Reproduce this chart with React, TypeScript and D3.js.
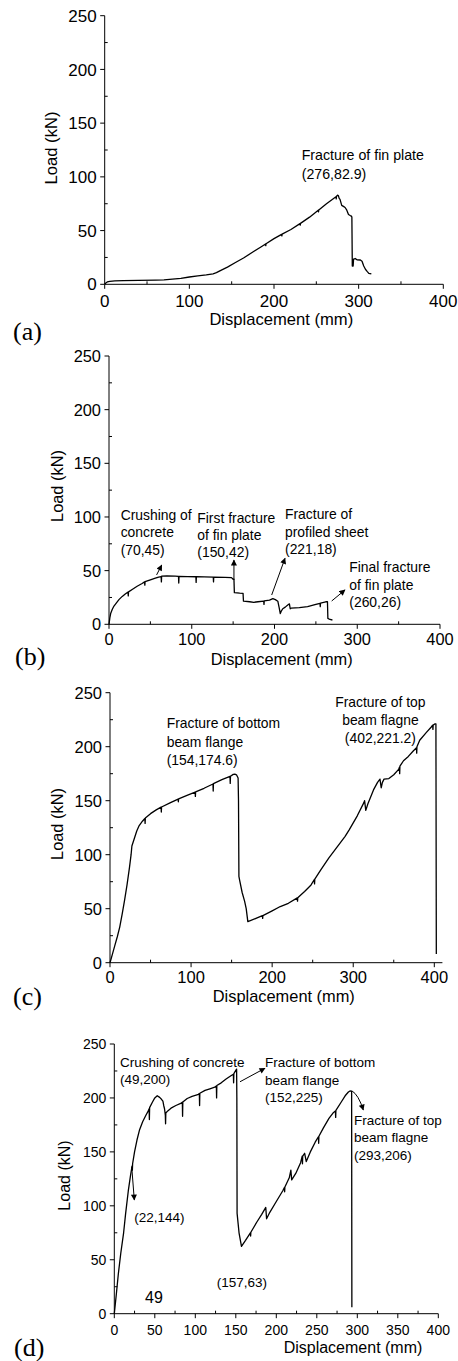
import * as d3 from "d3";

type Pt = [number, number];

// ---- data ----
const curveA: Pt[] = [
  [0, 0], [1, 1], [3, 2.2], [6, 2.8], [12, 3.2], [22, 3.4], [40, 3.6], [60, 3.9], [70, 4.1],
  [80, 4.8], [90, 5.6], [100, 6.8], [110, 7.8], [120, 8.8], [128, 9.8], [132, 10.8], [136, 12.5],
  [145, 16], [155, 20.5], [164, 24.5], [175, 30], [185, 35], [190, 37.5], [190.3, 36], [190.6, 37.7],
  [200, 42.5], [209, 46.5], [209.3, 45], [209.6, 46.7], [220, 51], [230.7, 56.5], [231, 55], [231.3, 56.7],
  [242, 62.5], [252.3, 69], [252.6, 67.5], [252.9, 69.2], [262, 75], [272, 80.8], [273.2, 81.5], [273.5, 79.5],
  [273.8, 81.8], [275, 82.9], [276, 82.6], [277, 80], [278, 79], [280, 73.5], [282, 72.5], [284, 71.5],
  [286, 69], [288, 65], [290, 64], [291.5, 63.5], [292, 62.5], [292.5, 17], [293.5, 17], [294, 23.5],
  [296, 24], [298, 22.8], [302, 22.6], [304, 21.5], [306, 17], [308, 14], [310, 12], [312, 10.2], [315, 9.6],
];

const curveB: Pt[] = [
  [0, 0], [1, 6], [2, 10], [4, 14], [6, 17], [9, 20], [12, 23], [16, 26], [20, 28.5], [23, 30],
  [23.3, 26.5], [23.6, 30.2], [28, 32.5], [34, 35.5], [40, 38], [43, 39.5], [43.3, 36.5], [43.6, 39.8],
  [50, 41.5], [56, 43], [60, 44], [63, 44.5], [63.3, 39.5], [63.6, 44.8], [70, 45], [80, 44.8],
  [84, 44.6], [84.3, 38.5], [84.6, 44.6], [95, 44.5], [105, 44.3], [105.3, 39], [105.6, 44.3],
  [115, 44.2], [126, 44], [126.3, 39.5], [126.6, 44], [140, 43.8], [148, 43.5], [150, 42], [151, 42],
  [151.5, 29.5], [158, 29], [162, 28.8], [162.5, 21.5], [170, 21], [175, 20.5], [180, 21], [187, 21.5],
  [187.3, 18.5], [187.6, 21.8], [194, 22.5], [198, 24], [201, 23], [204, 21.5], [205.5, 16], [207, 10],
  [208, 12], [210, 14.5], [213, 16], [216, 18], [218, 19], [219, 14.5], [220, 15], [230, 15.5],
  [240, 16.5], [250, 18.5], [255, 19.5], [255.3, 16.5], [255.6, 19.8], [262, 21], [264, 21],
  [264.5, 5.5], [267, 4.5], [270, 4],
];

const curveC: Pt[] = [
  [0, 0], [3, 8], [6, 16], [9, 24], [12, 33], [15, 45], [18, 58], [21, 72], [24, 88], [26, 100],
  [27, 108], [30, 115], [33, 122], [36, 127], [40, 131], [43, 133.5], [43.3, 129], [43.6, 134],
  [50, 138], [57, 141.5], [63, 144], [63.3, 139.5], [63.6, 144.2], [74, 148], [84, 151.5], [84.3, 149],
  [84.6, 151.7], [95, 155], [105, 158], [105.3, 154], [105.6, 158.2], [116, 161.5], [127, 165.5],
  [127.3, 159], [127.6, 165.8], [138, 169.5], [148, 172.5], [148.3, 166], [148.6, 172.7], [152, 174.4],
  [154, 174.6], [156, 174], [158, 171], [158.5, 150], [159, 80], [160, 76], [163, 65], [166, 57],
  [168, 50], [170, 38], [180, 41], [188, 43.5], [188.3, 41], [188.6, 43.6], [200, 48], [210, 52],
  [220, 55], [231, 60], [231.3, 57], [231.6, 60.2], [240, 66], [248, 72], [252, 77], [252.3, 73],
  [252.6, 77.3], [260, 86], [270, 97], [280, 107], [290, 117], [295, 123], [305, 136], [313, 148],
  [314, 150], [315.5, 141], [318, 147], [325, 160], [330, 167], [333, 170], [334.5, 162], [336, 167],
  [338, 170], [344, 170.5], [350, 174], [356, 179], [357, 181], [357.3, 175], [357.6, 182], [362, 187],
  [368, 191], [374, 196], [378, 199], [378.3, 194], [378.6, 200], [382, 206], [390, 213], [396, 218],
  [398, 220], [398.3, 216], [398.6, 220], [401, 221.2], [402, 221.2], [402.5, 8],
];

const curveD: Pt[] = [
  [0, 0], [2.5, 18], [5, 37], [8, 56], [11.5, 75], [14, 93], [17.3, 114], [20, 128], [22, 137],
  [22.3, 133], [22.6, 139], [25, 150], [28, 161], [31, 170], [35, 178], [39, 184], [42, 188], [43, 190],
  [43.3, 180], [43.6, 191], [47, 196], [50, 200], [53, 202], [56, 200.5], [58, 199], [60, 197],
  [61, 193], [62, 190], [63, 184], [63.3, 176], [63.6, 186], [66, 188], [70, 190.5], [76, 193],
  [82, 195], [84, 196], [84.3, 183], [84.6, 196.2], [90, 199.5], [96, 201.5], [103, 203], [105, 204],
  [105.3, 193], [105.6, 204.3], [112, 207], [118, 208.5], [124, 210], [126, 211], [126.3, 200],
  [126.6, 211.5], [132, 214], [138, 217.5], [144, 220.5], [147, 222], [147.3, 214], [147.6, 222.5],
  [150, 225.5], [151, 226.7], [151.3, 200], [151.6, 93], [154, 75], [157, 62.5], [162, 68], [168, 75],
  [168.3, 72], [168.6, 75.5], [176, 85], [182, 92], [187, 98.5], [188, 88], [192, 94], [200, 104],
  [208, 114], [210, 117], [210.3, 113], [210.6, 117.5], [216, 126], [218, 133], [219, 124], [224, 130],
  [230, 140], [232, 146], [232.3, 139], [232.6, 146], [235, 148.7], [237, 141], [242, 150], [248, 159],
  [252, 164], [252.3, 158], [252.6, 164.5], [258, 172], [265, 181], [270, 186], [273, 188],
  [273.3, 182], [273.6, 188.5], [280, 196], [285, 202], [289, 205.5], [291, 206.5], [293, 206], [293.3, 6],
];

// annotations: anchor point in data units, text lines
type Note = { x: number; y: number; lines: string[]; anchor?: string; size?: number; dy?: number };
type Arrow = { x1: number; y1: number; x2: number; y2: number; cx?: number; cy?: number };

const notesA: Note[] = [{ x: 232.7, y: 115.8, lines: ["Fracture of fin plate", "(276,82.9)"], dy: 19 }];
const arrowsA: Arrow[] = [];

const notesB: Note[] = [
  { x: 14.1, y: 97.2, lines: ["Crushing of", "concrete", "(70,45)"] },
  { x: 106.7, y: 94.7, lines: ["First fracture", "of fin plate", "(150,42)"] },
  { x: 212.7, y: 97.8, lines: ["Fracture of", "profiled sheet", "(221,18)"] },
  { x: 290.4, y: 48.5, lines: ["Final fracture", "of fin plate", "(260,26)"] },
];
const arrowsB: Arrow[] = [
  { x1: 57.5, y1: 46, x2: 63.7, y2: 55.2 },
  { x1: 151, y1: 41.3, x2: 151, y2: 59.9 },
  { x1: 196.6, y1: 27.3, x2: 212.7, y2: 61.5 },
  { x1: 269.1, y1: 21.7, x2: 285.2, y2: 32 },
];

const notesC: Note[] = [
  { x: 69.9, y: 217, lines: ["Fracture of bottom", "beam flange", "(154,174.6)"], dy: 18.5 },
  { x: 333.5, y: 237, lines: ["Fracture of top", "beam flagne", "(402,221.2)"], anchor: "middle", dy: 18 },
];
const arrowsC: Arrow[] = [];

const notesD: Note[] = [
  { x: 7, y: 229, lines: ["Crushing of concrete", "(49,200)"] },
  { x: 186, y: 228.4, lines: ["Fracture of bottom", "beam flange", "(152,225)"] },
  { x: 295.9, y: 174.9, lines: ["Fracture of top", "beam flagne", "(293,206)"] },
  { x: 24.7, y: 85.3, lines: ["(22,144)"] },
  { x: 126.4, y: 25, lines: ["(157,63)"] },
  { x: 37.9, y: 10.2, lines: ["49"], size: 16 },
];
const arrowsD: Arrow[] = [
  { x1: 21.5, y1: 136.3, x2: 24.7, y2: 105.4 },
  { x1: 155.2, y1: 215, x2: 186, y2: 227.5 },
  { x1: 293.1, y1: 206.7, x2: 307.4, y2: 188.8, cx: 301.5, cy: 203 },
];

const SANS = "'Liberation Sans', Arial, sans-serif";
const SERIF = "'Liberation Serif', 'Times New Roman', serif";

const panels = [
  {
    data: curveA, notes: notesA, arrows: arrowsA, letter: "(a)",
    left: 104.7, x400: 443.3, top: 15.7, bottom: 284.3, xEnd: 400, xStep: 100,
    tickFont: 17, titleFont: 16.6, noteFont: 14.2, tickBase: 22.4,
    xTitle: [281.3, 325], yTitle: [57, 148], letterPos: [13, 340],
  },
  {
    data: curveB, notes: notesB, arrows: arrowsB, letter: "(b)",
    left: 109, x400: 440, top: 356, bottom: 624.3, xEnd: 400, xStep: 100,
    tickFont: 16.4, titleFont: 16.4, noteFont: 13.9, tickBase: 20.7,
    xTitle: [281.7, 665], yTitle: [63, 486], letterPos: [15, 665],
  },
  {
    data: curveC, notes: notesC, arrows: arrowsC, letter: "(c)",
    left: 110, x400: 434.3, top: 692.7, bottom: 962.7, xEnd: 410, xStep: 100,
    tickFont: 16.5, titleFont: 16.4, noteFont: 13.9, tickBase: 20.3,
    xTitle: [283.8, 1001.7], yTitle: [63, 824], letterPos: [13, 1005],
  },
  {
    data: curveD, notes: notesD, arrows: arrowsD, letter: "(d)",
    left: 114.3, x400: 438.3, top: 1044, bottom: 1313.7, xEnd: 400, xStep: 50,
    tickFont: 14, titleFont: 16, noteFont: 13.5, tickBase: 21.3,
    xTitle: [353, 1353], yTitle: [70, 1175.5], letterPos: [14, 1356],
  },
];

function Panel({ p }: { p: (typeof panels)[number] }) {
  const unit = (p.x400 - p.left) / 400;
  const x = d3.scaleLinear().domain([0, p.xEnd]).range([p.left, p.left + unit * p.xEnd]);
  const y = d3.scaleLinear().domain([0, 250]).range([p.bottom, p.top]);
  const line = d3.line<Pt>().x(d => x(d[0])).y(d => y(d[1]));

  const xMajor = d3.range(0, 401, p.xStep);
  const xMinor = d3.range(p.xStep / 2, 400, p.xStep);
  const yMajor = d3.range(0, 251, 50);
  const yMinor = d3.range(25, 250, 50);
  const [x0, x1] = x.range();

  return (
    <g fontFamily={SANS} fill="#000">
      {/* axes */}
      <line x1={x0} x2={x1} y1={p.bottom} y2={p.bottom} stroke="#000" strokeWidth={1} />
      <line x1={p.left} x2={p.left} y1={p.bottom} y2={p.top} stroke="#000" strokeWidth={1} />
      {xMajor.map(t => (
        <g key={"xm" + t}>
          <line x1={x(t)} x2={x(t)} y1={p.bottom} y2={p.bottom + 4.5} stroke="#000" />
          <text x={x(t)} y={p.bottom + p.tickBase} textAnchor="middle" fontSize={p.tickFont}>{t}</text>
        </g>
      ))}
      {xMinor.map(t => (
        <line key={"xn" + t} x1={x(t)} x2={x(t)} y1={p.bottom} y2={p.bottom - 3} stroke="#000" />
      ))}
      {yMajor.map(t => (
        <g key={"ym" + t}>
          <line x1={p.left - 4.5} x2={p.left} y1={y(t)} y2={y(t)} stroke="#000" />
          <text x={p.left - 8} y={y(t)} dy="0.36em" textAnchor="end" fontSize={p.tickFont}>{t}</text>
        </g>
      ))}
      {yMinor.map(t => (
        <line key={"yn" + t} x1={p.left} x2={p.left + 3} y1={y(t)} y2={y(t)} stroke="#000" />
      ))}

      {/* titles */}
      <text x={p.xTitle[0]} y={p.xTitle[1]} textAnchor="middle" fontSize={p.titleFont}>Displacement (mm)</text>
      <text transform={`translate(${p.yTitle[0]},${p.yTitle[1]}) rotate(-90)`} textAnchor="middle" fontSize={p.titleFont}>Load (kN)</text>
      <text x={p.letterPos[0]} y={p.letterPos[1]} fontFamily={SERIF} fontSize={26}>{p.letter}</text>

      {/* curve */}
      <path d={line(p.data) ?? ""} fill="none" stroke="#000" strokeWidth={1.3} strokeLinejoin="round" />

      {/* annotations */}
      {p.notes.map((n, i) => (
        <text key={"n" + i} x={x(n.x)} y={y(n.y)} fontSize={n.size ?? p.noteFont} textAnchor={n.anchor ?? "start"}>
          {n.lines.map((s, j) => (
            <tspan key={j} x={x(n.x)} dy={j === 0 ? 0 : (n.dy ?? 17.3)}>{s}</tspan>
          ))}
        </text>
      ))}
      {p.arrows.map((a, i) => (
        <path
          key={"a" + i}
          d={a.cx !== undefined
            ? `M${x(a.x1)},${y(a.y1)} Q${x(a.cx)},${y(a.cy!)} ${x(a.x2)},${y(a.y2)}`
            : `M${x(a.x1)},${y(a.y1)} L${x(a.x2)},${y(a.y2)}`}
          fill="none" stroke="#000" strokeWidth={1} markerEnd="url(#arrowhead)"
        />
      ))}
    </g>
  );
}

export default function App() {
  return (
    <svg width={458} height={1361} style={{ position: "absolute", left: 0, top: 0, background: "#fff" }}>
      <defs>
        <marker id="arrowhead" viewBox="0 0 10 10" refX="9" refY="5" markerWidth="7" markerHeight="6"
          markerUnits="userSpaceOnUse" orient="auto">
          <path d="M0,0 L10,5 L0,10 z" fill="#000" />
        </marker>
      </defs>
      <rect width={458} height={1361} fill="#fff" />
      {panels.map((p, i) => <Panel key={i} p={p} />)}
    </svg>
  );
}
